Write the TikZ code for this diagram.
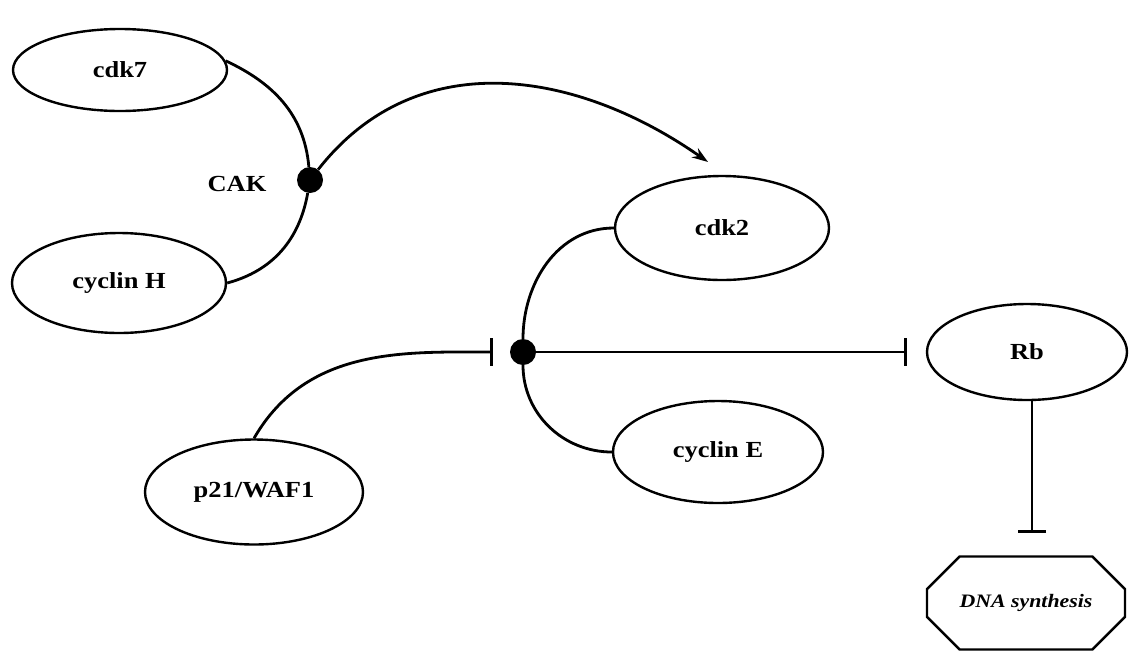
\documentclass[tikz,border=0pt]{standalone}
\usepackage{fontspec}
\setmainfont[FakeStretch=1.15]{Liberation Serif}
\usetikzlibrary{shapes.geometric,shapes.misc,arrows.meta}
\begin{document}
\begin{tikzpicture}[x=1pt,y=-1pt,
  prot/.style={draw,ellipse,line width=2.4pt,minimum width=212pt,minimum height=100pt,inner sep=0pt,font=\bfseries\fontsize{23}{26}\selectfont},
  cplx/.style={circle,fill=black,minimum size=26pt,inner sep=0pt},
  link/.style={line width=2.8pt},
  inhib/.style={line width=2.8pt,-{Bar[width=28pt,line width=3pt]}},
  act/.style={line width=2.8pt,-{Stealth[length=16pt,width=11pt]}}]
\useasboundingbox (0,0) rectangle (1132,662);
\node[prot,minimum width=214pt,minimum height=82pt] (cdk7) at (120,70) {cdk7};
\node[prot,minimum width=214pt,minimum height=100pt] (cycH) at (119,283) {cyclin H};
\node[cplx] (cak) at (310,180) {};
\node[font=\bfseries\fontsize{23}{26}\selectfont] (caklab) at (237,184) {CAK};
\node[prot,minimum width=214pt,minimum height=104pt] (cdk2) at (722,228) {cdk2};
\node[prot,minimum width=210pt,minimum height=102pt] (cycE) at (718,452) {cyclin E};
\node[cplx] (cyc) at (523,352) {};
\node[prot,minimum width=200pt,minimum height=96pt] (Rb) at (1027,352) {Rb};
\node[prot,minimum width=218pt,minimum height=105pt] (p21) at (254,492) {p21/WAF1};
\node[draw,chamfered rectangle,chamfered rectangle xsep=22pt,chamfered rectangle ysep=24pt,line width=2.4pt,minimum width=198pt,minimum height=93pt,inner sep=0pt,font=\bfseries\itshape\fontsize{19}{22}\selectfont] (dna) at (1026,603) {DNA synthesis};
\coordinate (aend) at (708,162);
\coordinate (rbb) at (1032,400);
\draw[link] (cdk7.5) to[out=-25,in=95] (cak);
\draw[link] (cak) to[out=-100,in=15] (cycH.east);
\draw[act] (cak) to[out=52,in=145,looseness=1.05] (aend);
\draw[link] (cyc) to[out=90,in=180] (cdk2.west);
\draw[link] (cyc) to[out=-90,in=180] (cycE.west);
\draw[inhib,shorten >=19pt] (cyc) -- (Rb.west);
\draw[inhib,shorten >=17pt] (p21.north) to[out=60,in=180] (cyc);
\draw[inhib,shorten >=22pt] (rbb) -- (rbb |- dna.north);
\end{tikzpicture}
\end{document}
